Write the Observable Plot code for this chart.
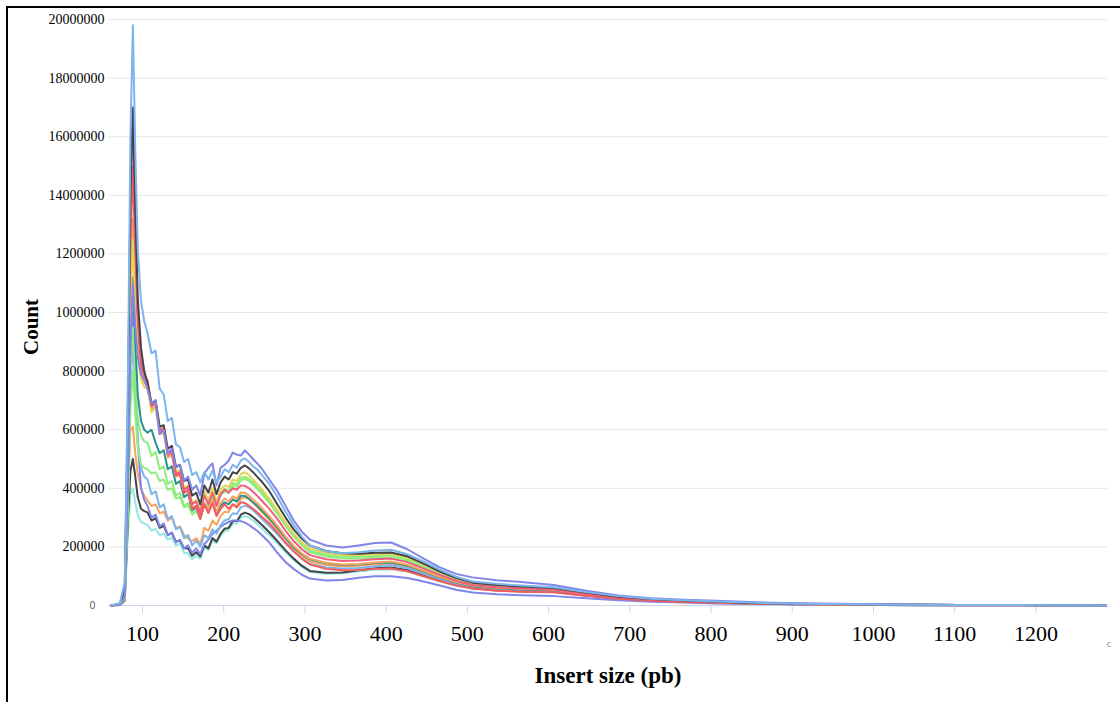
<!DOCTYPE html>
<html><head><meta charset="utf-8">
<script src="https://cdn.jsdelivr.net/npm/d3@7"></script>
<script src="https://cdn.jsdelivr.net/npm/@observablehq/plot@0.6"></script>
<style>
html,body{margin:0;padding:0;background:#fff;width:1120px;height:702px;overflow:hidden}
#chart{position:absolute;left:0;top:0}
.border{position:absolute;left:6px;top:6px;width:1114px;height:696px;border-top:2.5px solid #000;border-left:2.5px solid #000;pointer-events:none}
.ylab{position:absolute;left:31px;top:327px;transform:translate(-50%,-50%) rotate(-90deg);font:bold 21px 'Liberation Serif','Times New Roman',serif;color:#000;white-space:nowrap}
</style>
</head><body>
<div id="chart"></div><div class="ylab">Count</div><div class="border"></div>
<script>
// Insert size (bp) sample points
const xs = [55,66,72,76,79,82,85,88,92,96,
 100,105,110,115,120,125,130,135,140,145,150,155,160,165,170,175,180,185,190,195,200,205,210,215,220,225,230,235,240,
 250,260,270,280,290,300,
 320,340,360,380,400,420,440,460,480,500,
 530,560,600,640,680,720,760,800,
 850,900,1000,1100,1200,1280];

// Counts (in thousands, on the chart's linear scale)
const cyanJ = [0,2,15,250,380,400,350,310,285,280,
 275,255,262,240,245,225,232,205,212,180, 178,158,170,160,198,190,222,212,238,255, 258,280,280,300,305,300,290,278,265,
 240,212,182,155,132,114,
 108,110,116,122,124,116,100,83,68,58,
 51,48,46,33,23,16,12,9,
 6,4,2,1,1,0];
const blackL = [0,2,18,300,460,500,440,370,330,322,
 318,290,298,265,272,240,248,218,222,195, 195,170,182,168,205,195,230,218,245,262, 265,288,288,310,317,312,302,290,277,
 250,220,188,160,136,118,
 112,113,120,127,130,121,104,86,71,60,
 52,49,47,34,23,17,13,10,
 6,4,2,1,1,0];
const orangeN = [0,2,20,380,600,610,520,450,400,375,
 358,340,345,315,320,290,300,265,270,240, 228,220,230,210,265,255,290,275,305,320, 318,345,340,365,369,362,350,337,322,
 292,262,228,197,170,150,
 137,134,136,141,143,133,113,93,76,64,
 56,53,50,36,25,18,14,10,
 7,4,2,1,1,0];
const purpleO = [0,3,30,420,850,1000,750,560,400,360,
 340,300,310,270,280,240,250,215,225,195, 205,180,195,175,210,225,245,255,268,278, 285,290,290,288,283,275,265,255,242,
 215,180,148,125,105,92,
 85,87,95,100,100,94,82,68,54,44,
 38,35,32,25,18,13,10,7,
 5,3,2,1,1,0];
const lightBlueK = [0,3,25,380,760,900,720,560,470,440,
 430,380,390,335,345,295,305,260,268,230, 240,205,222,200,240,230,260,245,275,290, 295,315,312,335,341,335,325,312,298,
 272,243,212,185,160,142,
 130,126,128,134,137,127,108,89,73,62,
 54,51,48,35,24,17,13,10,
 7,4,2,1,1,0];
const greenC = [0,3,25,340,680,800,650,540,480,470,
 465,450,455,425,430,395,400,365,370,335, 340,315,322,298,345,335,370,340,375,390, 385,410,405,428,432,425,412,398,383,
 350,312,272,236,205,182,
 167,160,160,163,164,152,130,107,87,72,
 64,61,57,42,29,21,16,12,
 8,5,3,2,1,0];
const greenM = [0,3,28,400,800,950,780,640,580,560,
 555,510,525,465,475,415,425,375,385,340, 350,310,325,295,350,335,372,345,380,398, 392,418,412,435,440,432,420,405,390,
 358,320,280,243,212,188,
 173,166,166,169,171,158,135,111,89,74,
 66,62,58,43,29,21,16,12,
 8,5,3,2,1,0];
const tealH = [0,3,30,450,920,1120,900,720,630,600,
 590,600,555,520,530,465,475,415,425,370, 380,325,335,300,345,320,350,312,340,352, 345,362,355,375,374,365,352,340,326,
 298,265,230,198,175,158,
 144,138,140,145,147,136,116,95,78,66,
 58,55,52,38,26,19,14,11,
 7,5,3,2,1,0];
const orangeD = [0,4,40,520,1080,1320,1050,880,790,760,
 750,670,680,585,590,505,515,440,445,385, 390,330,340,300,350,325,360,320,350,365, 355,372,365,386,385,375,362,350,335,
 305,272,235,203,178,160,
 146,140,142,147,150,139,118,97,80,68,
 60,57,54,39,27,19,15,11,
 7,5,3,2,1,0];
const redI = [0,4,45,600,1220,1500,1180,950,820,780,
 770,680,695,595,605,515,525,445,450,385, 395,330,340,295,345,315,350,305,330,345, 330,345,335,352,350,340,330,318,305,
 280,250,215,185,160,140,
 125,120,121,125,126,117,100,83,68,58,
 50,47,45,33,23,16,12,9,
 6,4,2,1,1,0];
const yellowG = [0,3,35,500,1020,1250,1000,850,770,745,
 740,660,675,585,595,515,530,455,465,400, 410,350,360,325,390,360,400,355,395,410, 405,430,425,448,455,445,430,415,400,
 365,325,282,245,215,195,
 180,172,172,175,177,164,140,114,92,76,
 68,64,60,44,30,22,17,13,
 8,6,3,2,1,0];
const pinkF = [0,4,50,650,1350,1680,1300,1000,850,790,
 760,680,690,600,605,515,525,450,455,395, 405,345,355,315,375,345,385,340,380,395, 385,400,395,410,408,400,388,375,360,
 330,295,255,220,192,172,
 158,152,154,158,160,148,126,104,84,70,
 62,59,55,40,28,20,15,12,
 8,5,3,2,1,0];
const blackB = [0,5,60,700,1400,1700,1350,1050,880,800,
 760,690,700,610,615,535,545,475,480,425, 430,375,385,345,410,385,430,380,420,440, 430,455,450,470,478,468,455,440,425,
 390,345,300,260,228,205,
 186,178,177,180,181,168,143,116,94,78,
 70,65,60,44,30,22,17,13,
 8,6,3,2,1,0];
const purpleE = [0,3,30,440,900,1100,950,850,790,770,
 740,690,700,585,600,520,535,470,480,425, 440,395,410,375,450,470,485,410,470,480, 495,522,515,512,529,515,500,485,470,
 430,390,340,290,252,225,
 205,198,205,213,215,192,160,130,108,96,
 86,80,70,50,34,25,20,16,
 11,8,4,2,1,0];
const lightBlueA = [0,8,80,800,1600,1980,1550,1220,1040,970,
 930,860,870,740,720,630,640,550,540,490, 500,445,455,420,455,430,460,420,440,465, 455,480,470,495,502,490,475,465,448,
 415,370,320,275,235,205,
 185,178,182,188,190,175,150,122,98,82,
 74,68,62,46,32,23,18,14,
 9,6,3,2,1,0];

const seriesValues = [cyanJ, blackL, orangeN, purpleO, lightBlueK, greenC, greenM, tealH, orangeD, redI, yellowG, pinkF, blackB, purpleE, lightBlueA];
const seriesColors = ["#91e8e1","#434348","#f7a35c","#8085e9","#7cb5ec","#90ed7d","#90ed7d","#2b908f","#f7a35c","#f45b5b","#e4d354","#f15c80","#434348","#8085e9","#7cb5ec"];

const yTicks = [0,200,400,600,800,1000,1200,1400,1600,1800,2000];
const yTickLabels = ["0","200000","400000","600000","800000","1000000","1200000","14000000","16000000","18000000","20000000"];
const xTicks = [100,200,300,400,500,600,700,800,900,1000,1100,1200];
const xTickLabels = ["100","200","300","400","500","600","700","800","900","1000","1100","1200"];

const serif = "'Liberation Serif','Times New Roman',serif";

const lineMarks = seriesValues.map((vals, k) =>
  Plot.line(xs.map((x, i) => ({x, v: vals[i]})), {
    x: "x", y: "v", stroke: seriesColors[k], strokeWidth: 2, strokeLinejoin: "round", curve: "linear"
  })
);

const chart = Plot.plot({
  width: 1120, height: 702,
  marginLeft: 108, marginRight: 13, marginTop: 19, marginBottom: 97,
  style: {background: "transparent", overflow: "visible"},
  x: {domain: [52, 1282]},
  y: {domain: [0, 2000]},
  marks: [
    Plot.gridY(yTicks, {stroke: "#e6e6e6", strokeOpacity: 1}),
    Plot.ruleY([0], {stroke: "#ccd6eb", strokeWidth: 1}),
    Plot.axisX(xTicks, {tickSize: 8, tickPadding: 12, stroke: "#ccd6eb", fill: "#000", fontSize: 22, fontFamily: serif,
      tickFormat: d => xTickLabels[xTicks.indexOf(d)], dx: -5, label: null}),
    Plot.axisY(yTicks, {tickSize: 0, tickPadding: 4, fill: "#000", fontSize: 14, fontFamily: serif,
      tickFormat: d => d === 0 ? "" : yTickLabels[yTicks.indexOf(d)], label: null}),
    Plot.text([yTickLabels[0]], {frameAnchor: "left", y: [0], text: d => d, dx: -13, textAnchor: "end",
      fill: "#666", fontSize: 10, fontFamily: "'DejaVu Sans',sans-serif"}),
    ...lineMarks,
    Plot.text(["Insert size (pb)"], {frameAnchor: "bottom", text: d => d, dy: 77,
      fontSize: 23, fontWeight: "bold", fontFamily: serif, fill: "#000"}),
    Plot.text(["c"], {frameAnchor: "bottom-right", text: d => d, dx: 4, dy: 41,
      fontSize: 9, fontFamily: "'DejaVu Sans',sans-serif", fill: "#999"})
  ]
});
document.getElementById("chart").appendChild(chart);
</script>
</body></html>
